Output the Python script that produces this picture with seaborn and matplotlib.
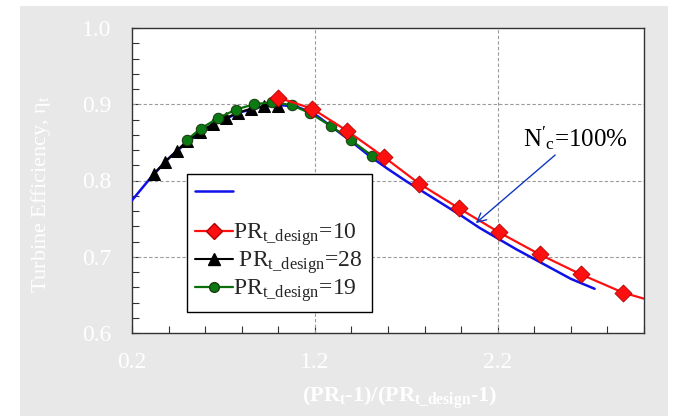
import matplotlib
matplotlib.use("Agg")
import matplotlib.pyplot as plt
from matplotlib.patches import Rectangle
from matplotlib.lines import Line2D
from matplotlib.ticker import MultipleLocator, FixedLocator, FixedFormatter
import seaborn as sns

# ---------------- data ----------------
blue_x = [0.2, 0.3, 0.4, 0.5, 0.6, 0.7, 0.8, 0.9, 1.0, 1.1, 1.2, 1.3, 1.4, 1.5,
          1.6, 1.7, 1.8, 1.9, 2.0, 2.1, 2.2, 2.3, 2.4, 2.5, 2.6, 2.73]
blue_y = [0.774, 0.803, 0.829, 0.850, 0.867, 0.880, 0.890, 0.896, 0.899, 0.897,
          0.887, 0.869, 0.851, 0.832, 0.815, 0.799, 0.784, 0.769, 0.754, 0.738,
          0.724, 0.710, 0.697, 0.684, 0.671, 0.658]

red_x = [1.0, 1.187, 1.377, 1.577, 1.77, 1.988, 2.207, 2.43, 2.654, 2.885]
red_y = [0.9086, 0.894, 0.865, 0.831, 0.796, 0.7636, 0.732, 0.703, 0.677, 0.653]
red_line_end_x = 3.0
red_line_end_y = 0.645

black_x = [0.32, 0.38, 0.444, 0.502, 0.572, 0.641, 0.714, 0.78, 0.849, 0.923, 1.0]
black_y = [0.809, 0.824, 0.839, 0.852, 0.864, 0.874, 0.882, 0.889, 0.894, 0.898, 0.898]

green_x = [0.499, 0.575, 0.672, 0.768, 0.867, 0.963, 1.073, 1.176, 1.287, 1.397, 1.513]
green_y = [0.853, 0.868, 0.882, 0.893, 0.900, 0.9026, 0.899, 0.888, 0.8715, 0.853, 0.8325]

legend_labels = ["",
                 "",
                 r"PR$_{\mathrm{t\_design}}$=10",
                 r" PR$_{\mathrm{t\_design}}$=28 ",
                 r"PR$_{\mathrm{t\_design}}$=19"]
x_tick_labels = ["0.2", "1.2", "2.2"]
y_tick_labels = ["0.6", "0.7", "0.8", "0.9", "1.0"]
annot_text = r"$\mathrm{N}'_{\mathrm{c}}$=100%"

# ---------------- style ----------------
sns.set_style("white")
plt.rcParams["font.family"] = ["Liberation Serif", "DejaVu Serif"]
plt.rcParams["mathtext.fontset"] = "custom"
plt.rcParams["mathtext.rm"] = "Liberation Serif"
plt.rcParams["mathtext.it"] = "Liberation Serif:italic"
plt.rcParams["mathtext.bf"] = "Liberation Serif:bold"

fig = plt.figure(figsize=(6.75, 4.16), dpi=100)
fig.patch.set_facecolor("white")
fig.patches.append(Rectangle((20 / 675, 0), 648 / 675, 410 / 416,
                             transform=fig.transFigure, facecolor="#e8e8e8",
                             edgecolor="none", zorder=-10))

ax = fig.add_axes([132 / 675, 83 / 416, 512 / 675, 305 / 416])
ax.set_facecolor("white")

BLUE = "#1010e8"
RED = "#ff1010"
GREEN = "#0a6e0a"

sns.lineplot(x=blue_x, y=blue_y, ax=ax, color=BLUE, lw=1.8, sort=False, zorder=3)
sns.lineplot(x=black_x, y=black_y, ax=ax, color="black", lw=1.5, sort=False,
             marker="^", markersize=9, markeredgecolor="black", zorder=4)
sns.lineplot(x=green_x, y=green_y, ax=ax, color=GREEN, lw=1.6, sort=False,
             marker="o", markersize=7.5, markerfacecolor="#0b7a12",
             markeredgecolor="#1b3b10", zorder=5)
sns.lineplot(x=red_x + [red_line_end_x], y=red_y + [red_line_end_y], ax=ax,
             color=RED, lw=1.6, sort=False, zorder=6)
sns.scatterplot(x=red_x, y=red_y, ax=ax, color=RED, marker="D", s=75,
                edgecolor="#b00000", linewidth=0.6, zorder=7)

ax.set_xlim(0.2, 3.0)
ax.set_ylim(0.6, 1.0)

ax.xaxis.set_major_locator(FixedLocator([0.2, 1.2, 2.2]))
ax.xaxis.set_major_formatter(FixedFormatter(x_tick_labels))
ax.xaxis.set_minor_locator(MultipleLocator(0.2))
ax.yaxis.set_major_locator(FixedLocator([0.6, 0.7, 0.8, 0.9, 1.0]))
ax.yaxis.set_major_formatter(FixedFormatter(y_tick_labels))
ax.yaxis.set_minor_locator(MultipleLocator(0.02))

ax.tick_params(axis="both", which="both", direction="in", length=5, width=0.8,
               color="#333333", bottom=True, left=True, top=False, right=False)
ax.tick_params(axis="x", which="major", labelsize=17, labelcolor="white", pad=14)
ax.tick_params(axis="y", which="major", labelsize=17, labelcolor="white", pad=15)

for s in ax.spines.values():
    s.set_color("#333333")
    s.set_linewidth(1.0)

# grid: dashed gray only at selected values
for gx in [1.2, 2.2]:
    ax.axvline(gx, color="#9a9a9a", lw=0.8, ls=(0, (3, 2)), zorder=1)
for gy in [0.7, 0.8, 0.9]:
    ax.axhline(gy, color="#9a9a9a", lw=0.8, ls=(0, (3, 2)), zorder=1)

ax.set_xlabel(r"(PR$_{\mathbf{t}}$-1)/(PR$_{\mathbf{t\_design}}$-1)",
              fontsize=16, color="white", fontweight="bold")
ax.xaxis.set_label_coords(0.523, -0.17)
ax.set_ylabel(r"Turbine Efficiency, η$_{\mathrm{t}}$", fontsize=16, color="white")
ax.yaxis.set_label_coords(-0.155, 0.455)

# annotation
ax.annotate(annot_text, xy=(2.08, 0.744), xytext=(2.337, 0.856),
            fontsize=18, color="black", va="center", ha="left",
            arrowprops=dict(arrowstyle="->", color="#1038c0", lw=1.0,
                            shrinkA=0, shrinkB=0, mutation_scale=16),
            zorder=8)

# legend
handles = [
    Line2D([], [], color=BLUE, lw=1.8),
    Line2D([], [], color="none", lw=0),
    Line2D([], [], color=RED, lw=1.6, marker="D", markersize=8,
           markerfacecolor=RED, markeredgecolor="#b00000"),
    Line2D([], [], color="black", lw=1.5, marker="^", markersize=8),
    Line2D([], [], color=GREEN, lw=1.6, marker="o", markersize=7,
           markerfacecolor="#0b7a12", markeredgecolor="#1b3b10"),
]
leg = ax.legend(handles, legend_labels, loc="lower left",
                bbox_to_anchor=(0.107, 0.069), borderaxespad=0, fontsize=17,
                frameon=True, fancybox=False, framealpha=1, edgecolor="black",
                handlelength=1.6, handletextpad=0.0, labelspacing=0.05,
                borderpad=0.35, handleheight=0.4)
leg.get_texts()[1].set_fontsize(3)
leg.get_frame().set_linewidth(1.0)
leg.set_zorder(10)

fig.savefig("out.png", dpi=100)
